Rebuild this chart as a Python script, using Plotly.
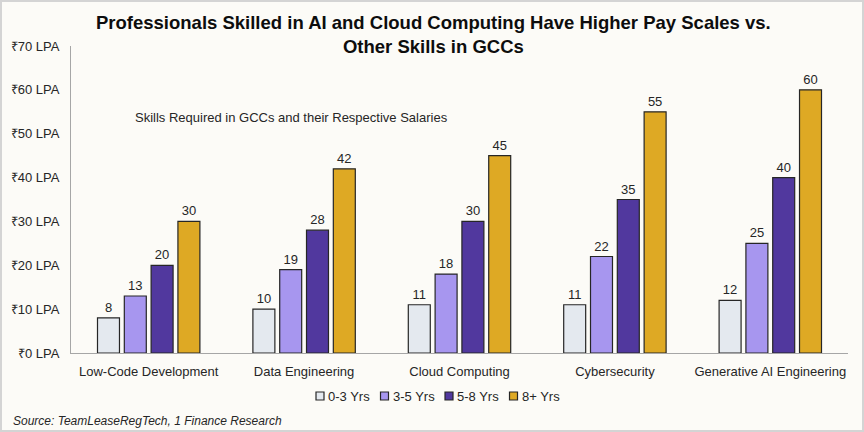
import plotly.graph_objects as go

categories = ["Low-Code Development", "Data Engineering", "Cloud Computing",
              "Cybersecurity", "Generative AI Engineering"]
series_names = ["0-3 Yrs", "3-5 Yrs", "5-8 Yrs", "8+ Yrs"]
yrs_0_3 = [8, 10, 11, 11, 12]
yrs_3_5 = [13, 19, 18, 22, 25]
yrs_5_8 = [20, 28, 30, 35, 40]
yrs_8_plus = [30, 42, 45, 55, 60]
tick_vals = [0, 10, 20, 30, 40, 50, 60, 70]
tick_text = ["₹0 LPA", "₹10 LPA", "₹20 LPA", "₹30 LPA", "₹40 LPA", "₹50 LPA", "₹60 LPA", "₹70 LPA"]

colors = ["#e4e9ef", "#a796ef", "#51389e", "#dea924"]
series = [yrs_0_3, yrs_3_5, yrs_5_8, yrs_8_plus]

W, H = 864, 432
ml, mr, mt, mb = 71, 16, 46, 79
pw, ph = W - ml - mr, H - mt - mb

def px(x):
    return (x - ml) / pw

def py(y):
    return (H - mb - y) / ph

font = "Liberation Sans, Arial, sans-serif"
outline = "#262626"

fig = go.Figure()
for name, vals, c in zip(series_names, series, colors):
    fig.add_trace(go.Bar(
        x=categories, y=vals, name=name,
        marker=dict(color=c, line=dict(color=outline, width=1.2)),
        text=[str(v) for v in vals], textposition="outside",
        textfont=dict(size=13, color="#262626", family=font),
        cliponaxis=False, showlegend=False,
    ))

fig.update_layout(
    width=W, height=H,
    margin=dict(l=ml, r=mr, t=mt, b=mb),
    paper_bgcolor="#fcfbf7", plot_bgcolor="#fcfbf7",
    barmode="group", bargap=0.31, bargroupgap=0.18,
    font=dict(family=font, size=13, color="#262626"),
    showlegend=False,
    xaxis=dict(showline=True, linecolor="#a6a6a6", linewidth=1, ticks="",
               tickfont=dict(size=13, color="#262626"), showgrid=False,
               ticklabelstandoff=6),
    yaxis=dict(range=[0, 70], tickvals=tick_vals, ticktext=tick_text, showgrid=False,
               showline=True, linecolor="#a6a6a6", linewidth=1, zeroline=False,
               tickfont=dict(size=13, color="#262626"), ticks="", ticklabelstandoff=8),
)

# custom compact legend
leg_x0, leg_step, leg_y, sq = 316, 64.5, 396, 8
for i, (name, c) in enumerate(zip(series_names, colors)):
    x0 = leg_x0 + i * leg_step
    fig.add_shape(type="rect", xref="paper", yref="paper",
                  x0=px(x0), x1=px(x0 + sq), y0=py(leg_y + sq / 2), y1=py(leg_y - sq / 2),
                  fillcolor=c, line=dict(color=outline, width=1.2))
    fig.add_annotation(text=name, xref="paper", yref="paper",
                       x=px(x0 + sq + 2), y=py(leg_y), xanchor="left", yanchor="middle",
                       showarrow=False, font=dict(size=13, color="#262626", family=font))

fig.add_annotation(
    text="<b>Professionals Skilled in AI and Cloud Computing Have Higher Pay Scales vs.<br>Other Skills in GCCs</b>",
    xref="paper", yref="paper", x=px(433), y=py(35), xanchor="center", yanchor="middle",
    showarrow=False, font=dict(size=18.5, color="#0d0d0d", family=font), align="center",
)
fig.add_annotation(
    text="Skills Required in GCCs and their Respective Salaries",
    xref="paper", yref="paper", x=px(133), y=py(117), xanchor="left", yanchor="middle",
    showarrow=False, font=dict(size=13, color="#262626", family=font),
)
fig.add_annotation(
    text="<i>Source: TeamLeaseRegTech, 1 Finance Research</i>",
    xref="paper", yref="paper", x=px(11), y=py(421), xanchor="left", yanchor="middle",
    showarrow=False, font=dict(size=12, color="#262626", family=font),
)
fig.add_shape(type="rect", xref="paper", yref="paper",
              x0=px(1), x1=px(W - 1), y0=py(1), y1=py(H - 1),
              line=dict(color="#d4d4d4", width=2), fillcolor="rgba(0,0,0,0)", layer="above")

fig.write_html("out.html")
